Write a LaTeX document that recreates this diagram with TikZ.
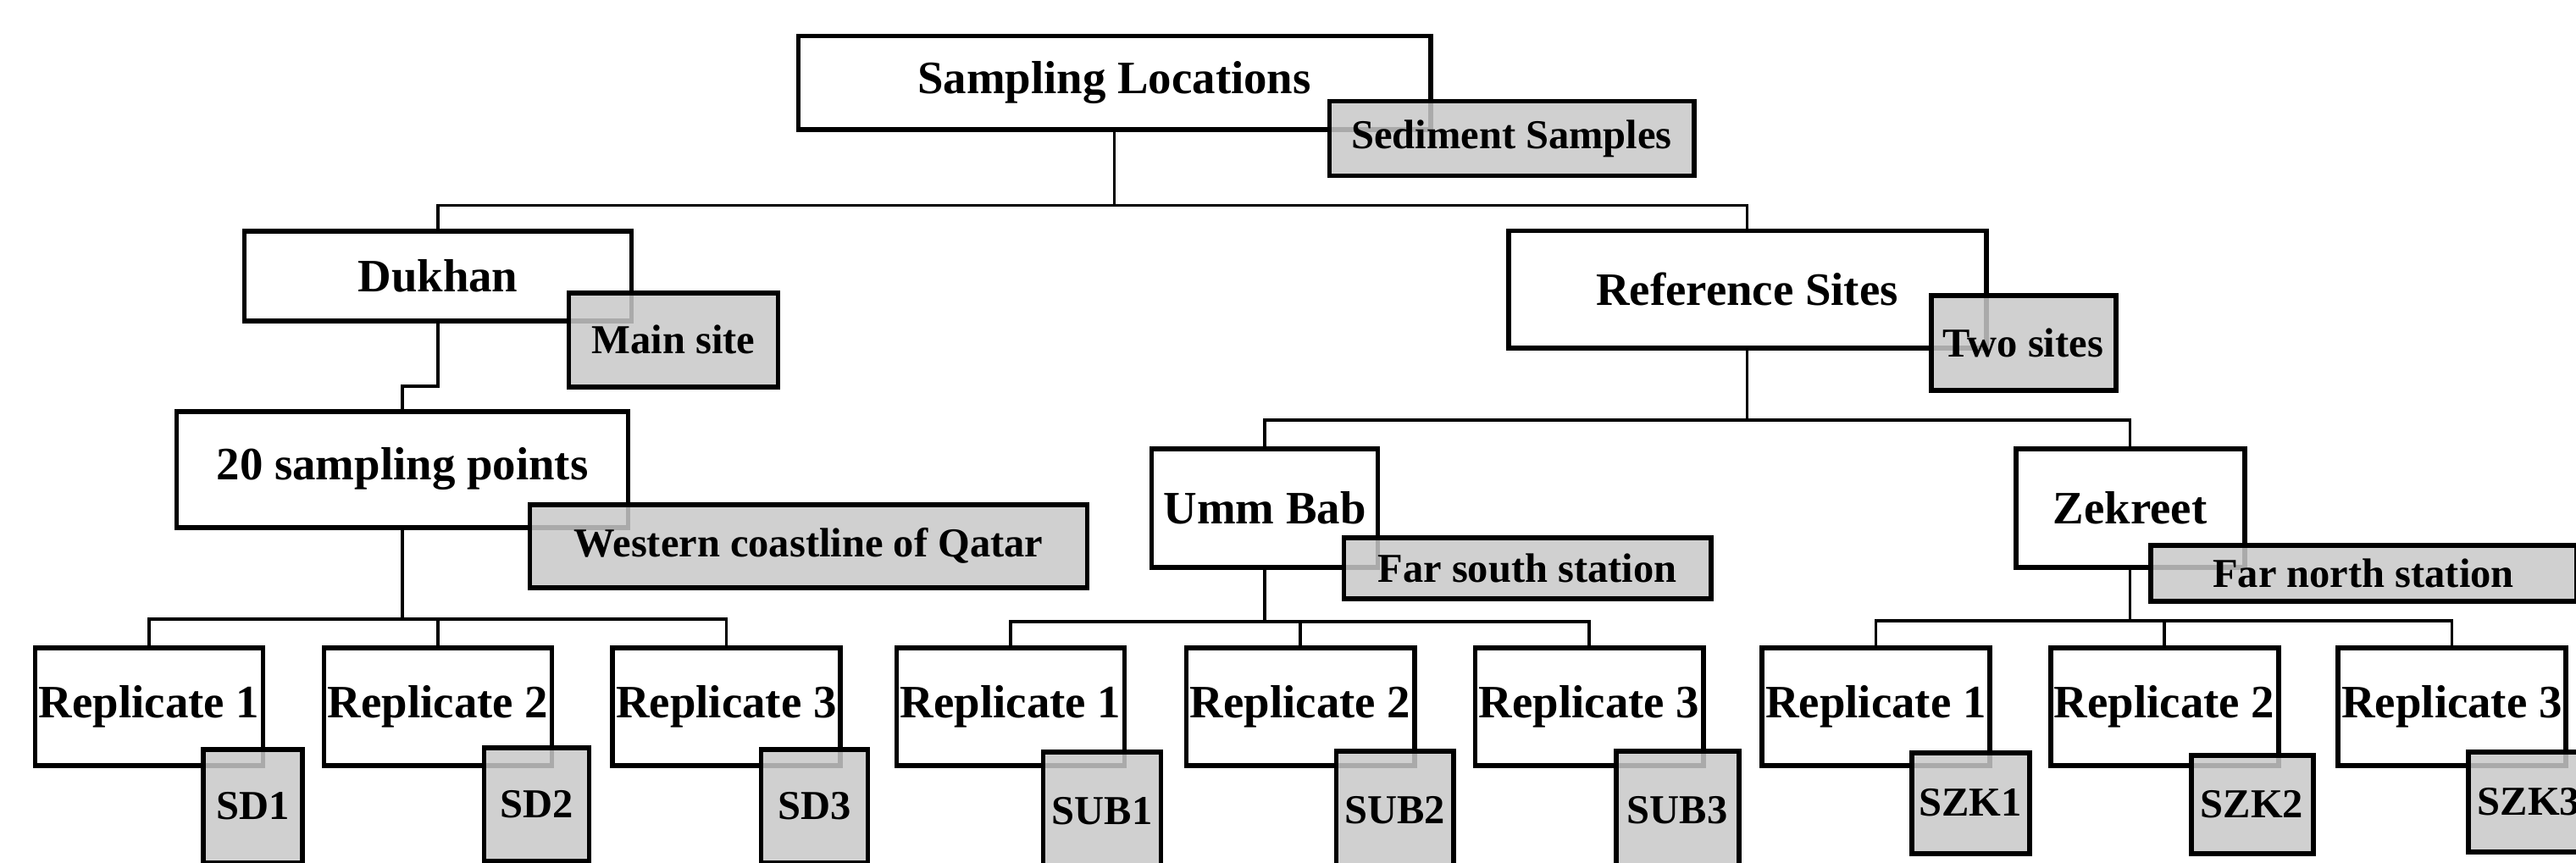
\documentclass[tikz,border=0pt]{standalone}
\usepackage{fontspec}
\setmainfont{Liberation Serif}
\usetikzlibrary{positioning}
\definecolor{taggray}{RGB}{200,200,200}
\tikzset{
	box/.style={draw, fill=white, line width=1.7pt, inner sep=0pt, font=\fontsize{15.6}{18}\selectfont\bfseries},
	tag/.style={draw, fill=taggray, fill opacity=0.85, text opacity=1, line width=1.7pt, inner sep=0pt, font=\fontsize{13.8}{16}\selectfont\bfseries},
	conn/.style={color=black, line width=1pt}
}
\begin{document}
\begin{tikzpicture}
	\useasboundingbox (0,0) rectangle (30.41,-10.18);
	\clip (0,0) rectangle (30.41,-10.18);

	%%%top levels
	\node[box, minimum width=7.46cm, minimum height=1.10cm] (loc) at (13.155,-0.975) {Sampling Locations};
	\node[box, minimum width=4.57cm, minimum height=1.06cm] (duk) at (5.17,-3.255) {Dukhan};
	\node[box, minimum width=5.64cm, minimum height=1.38cm] (refs) at (20.625,-3.415) {Reference Sites};
	\node[box, minimum width=5.33cm, minimum height=1.37cm] (pts) at (4.75,-5.54) {20 sampling points};
	\node[box, minimum width=2.67cm, minimum height=1.40cm] (umm) at (14.93,-5.995) {Umm Bab};
	\node[box, minimum width=2.70cm, minimum height=1.40cm] (zek) at (25.145,-5.995) {Zekreet};

	%%%replicates
	\node[box, minimum width=2.69cm, minimum height=1.39cm] (d1) at (1.76,-8.34) {Replicate 1};
	\node[box, minimum width=2.69cm, minimum height=1.39cm] (d2) at (5.17,-8.34) {Replicate 2};
	\node[box, minimum width=2.69cm, minimum height=1.39cm] (d3) at (8.575,-8.34) {Replicate 3};
	\node[box, minimum width=2.69cm, minimum height=1.39cm] (u1) at (11.93,-8.34) {Replicate 1};
	\node[box, minimum width=2.69cm, minimum height=1.39cm] (u2) at (15.35,-8.34) {Replicate 2};
	\node[box, minimum width=2.69cm, minimum height=1.39cm] (u3) at (18.76,-8.34) {Replicate 3};
	\node[box, minimum width=2.69cm, minimum height=1.39cm] (z1) at (22.145,-8.34) {Replicate 1};
	\node[box, minimum width=2.69cm, minimum height=1.39cm] (z2) at (25.55,-8.34) {Replicate 2};
	\node[box, minimum width=2.69cm, minimum height=1.39cm] (z3) at (28.945,-8.34) {Replicate 3};

	%%%connectors
	\draw[conn] (loc.south) -- ++(0,-0.87) coordinate (j0) -| (duk.north);
	\draw[conn] (j0) -| (refs.north);
	\draw[conn] (duk.south) -- ++(0,-0.745) -| (pts.north);
	\draw[conn] (pts.south) -- ++(0,-1.055) coordinate (j1) -| (d1.north);
	\draw[conn] (j1) -| (d2.north);
	\draw[conn] (j1) -| (d3.north);
	\draw[conn] (refs.south) -- ++(0,-0.825) coordinate (j2) -| (umm.north);
	\draw[conn] (j2) -| (zek.north);
	\draw[conn] (umm.south) -- ++(0,-0.615) coordinate (j3) -| (u1.north);
	\draw[conn] (j3) -| (u2.north);
	\draw[conn] (j3) -| (u3.north);
	\draw[conn] (zek.south) -- ++(0,-0.605) coordinate (j4) -| (z1.north);
	\draw[conn] (j4) -| (z2.north);
	\draw[conn] (j4) -| (z3.north);

	%%%tags
	\node[tag, minimum width=4.30cm, minimum height=0.88cm] (sed) at (17.845,-1.635) {Sediment Samples};
	\node[tag, minimum width=2.47cm, minimum height=1.11cm] (mainsite) at (7.95,-4.01) {Main site};
	\node[tag, minimum width=2.18cm, minimum height=1.12cm] (two) at (23.885,-4.045) {Two sites};
	\node[tag, minimum width=6.58cm, minimum height=0.98cm] (west) at (9.545,-6.445) {Western coastline of Qatar};
	\node[tag, minimum width=4.33cm, minimum height=0.72cm] (south) at (18.03,-6.705) {Far south station};
	\node[tag, minimum width=5.03cm, minimum height=0.66cm] (north) at (27.90,-6.765) {Far north station};

	\node[tag, minimum width=1.17cm, minimum height=1.34cm] (sd1) at (2.985,-9.52) {SD1};
	\node[tag, minimum width=1.24cm, minimum height=1.34cm] (sd2) at (6.335,-9.50) {SD2};
	\node[tag, minimum width=1.26cm, minimum height=1.34cm] (sd3) at (9.615,-9.52) {SD3};
	\node[tag, minimum width=1.39cm, minimum height=1.40cm] (sub1) at (13.01,-9.58) {SUB1};
	\node[tag, minimum width=1.38cm, minimum height=1.40cm] (sub2) at (16.465,-9.57) {SUB2};
	\node[tag, minimum width=1.45cm, minimum height=1.40cm] (sub3) at (19.80,-9.57) {SUB3};
	\node[tag, minimum width=1.39cm, minimum height=1.19cm] (szk1) at (23.26,-9.48) {SZK1};
	\node[tag, minimum width=1.44cm, minimum height=1.16cm] (szk2) at (26.585,-9.495) {SZK2};
	\node[tag, minimum width=1.44cm, minimum height=1.18cm] (szk3) at (29.855,-9.465) {SZK3};
\end{tikzpicture}
\end{document}
